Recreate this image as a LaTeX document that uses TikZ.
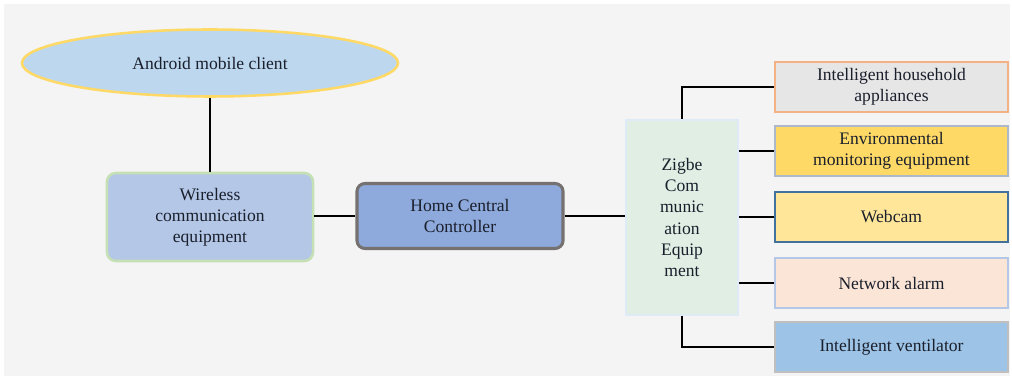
\documentclass[tikz,border=0pt]{standalone}
\usepackage{fontspec}
\setmainfont{Liberation Serif}
\usetikzlibrary{shapes.geometric}

\definecolor{txt}{HTML}{1A1F2C}
\definecolor{bgc}{HTML}{F4F4F4}
\definecolor{clientfill}{HTML}{BDD7EE}
\definecolor{clientline}{HTML}{FFD966}
\definecolor{wirefill}{HTML}{B4C7E7}
\definecolor{wireline}{HTML}{C5E0B4}
\definecolor{hccfill}{HTML}{8EA9DB}
\definecolor{hccline}{HTML}{767171}
\definecolor{zigfill}{HTML}{E0EEE4}
\definecolor{zigline}{HTML}{DEEBF7}
\tikzset{
  lbl/.style={align=center, text=txt, font=\fontsize{12.5}{15}\selectfont, inner sep=2pt},
  unit/.style={lbl, rectangle, line width=1.8pt, minimum width=5.825cm, minimum height=1.25cm},
  link/.style={line width=1.5pt, black}
}

\begin{document}
\begin{tikzpicture}[x=0.025cm, y=-0.025cm]
    \useasboundingbox (0,0) rectangle (1012,379);
    \fill[bgc] (4,4) rectangle (1010,376);
    % clients and controller
    \node[lbl, ellipse, minimum width=9.4cm, minimum height=1.675cm,
      fill=clientfill, draw=clientline, line width=1.8pt]
      (client) at (210,63) {Android mobile client};
    \node[lbl, rounded corners=0.22cm, minimum width=5.15cm, minimum height=2.2cm,
      fill=wirefill, draw=wireline, line width=1.8pt]
      (wireless) at (210,217) {Wireless\\communication\\equipment};
    \node[lbl, rounded corners=0.2cm, minimum width=5.15cm, minimum height=1.625cm,
      fill=hccfill, draw=hccline, line width=2.2pt]
      (hcc) at (460,216) {Home Central\\Controller};
    \node[lbl, minimum width=2.8cm, minimum height=4.875cm,
      fill=zigfill, draw=zigline, line width=1.8pt]
      (zigbee) at (682,217.5) {Zigbe\\Com\\munic\\ation\\Equip\\ment};
    % devices
    \node[unit, fill={rgb,255:red,231;green,230;blue,230}, draw={rgb,255:red,244;green,177;blue,131}]
      (appliance) at (891.5,87) {Intelligent household\\appliances};
    \node[unit, fill={rgb,255:red,255;green,217;blue,102}, draw={rgb,255:red,173;green,185;blue,202}]
      (envmon) at (891.5,151) {Environmental\\monitoring equipment};
    \node[unit, fill={rgb,255:red,255;green,230;blue,153}, draw={rgb,255:red,65;green,113;blue,156}]
      (webcam) at (891.5,217) {Webcam};
    \node[unit, fill={rgb,255:red,251;green,229;blue,214}, draw={rgb,255:red,180;green,199;blue,231}]
      (alarm) at (891.5,283) {Network alarm};
    \node[unit, fill={rgb,255:red,157;green,195;blue,230}, draw={rgb,255:red,191;green,191;blue,191}]
      (ventilator) at (891.5,347) {Intelligent ventilator};
    % connectors
    \draw[link] (client) -- (wireless);
    \draw[link] (hcc.west -| wireless.east) -- (hcc.west);
    \draw[link] (hcc.east) -- (hcc.east -| zigbee.west);
    \draw[link] (zigbee.north) |- (appliance.west);
    \draw[link] (zigbee.east |- envmon.west) -- (envmon.west);
    \draw[link] (zigbee.east |- webcam.west) -- (webcam.west);
    \draw[link] (zigbee.east |- alarm.west) -- (alarm.west);
    \draw[link] (zigbee.south) |- (ventilator.west);
\end{tikzpicture}
\end{document}
